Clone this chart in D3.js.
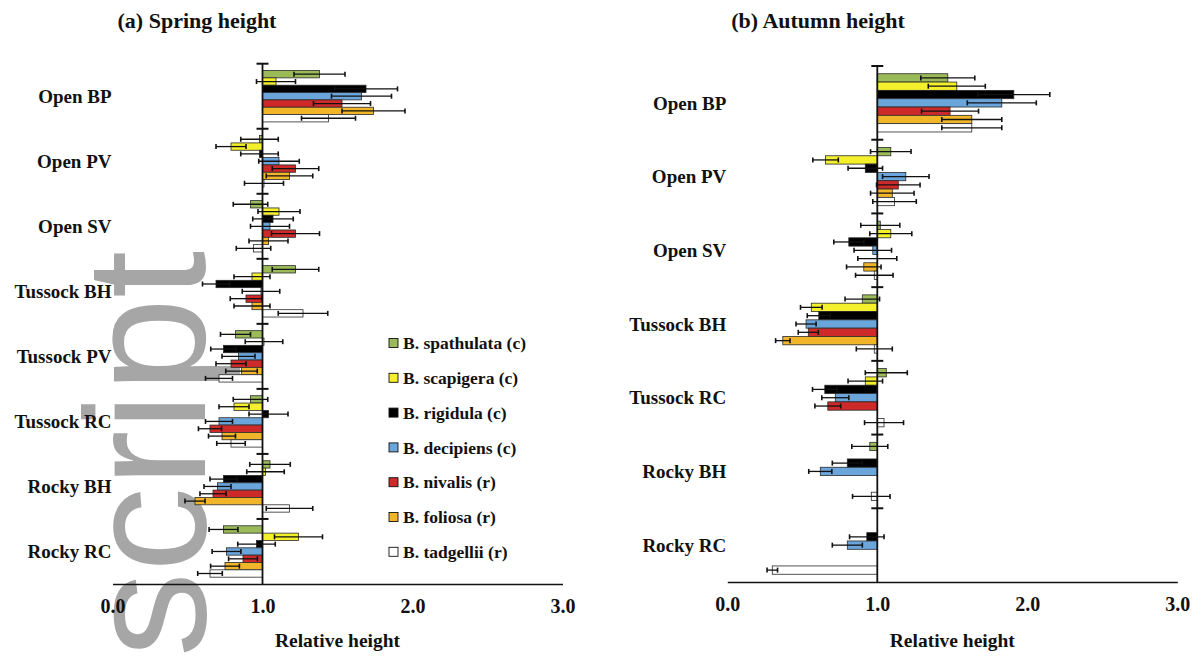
<!DOCTYPE html>
<html>
<head>
<meta charset="utf-8">
<script src="https://cdn.jsdelivr.net/npm/d3@7"></script>
<style>
  html, body { margin: 0; padding: 0; background: #fff; }
  svg { display: block; }
</style>
</head>
<body>
<svg id="chart" width="1200" height="656"></svg>
<script>
// Species (series), in drawing order within each site group
const species = ["B. spathulata (c)", "B. scapigera (c)", "B. rigidula (c)", "B. decipiens (c)",
                 "B. nivalis (r)", "B. foliosa (r)", "B. tadgellii (r)"];
const speciesColors = ["#9bbb59", "#f4f02c", "#000000", "#6aa6dc", "#cf2a2a", "#f1b52a", "#ffffff"];

// Sites (categories)
const springSites = ["Open BP", "Open PV", "Open SV", "Tussock BH", "Tussock PV", "Tussock RC", "Rocky BH", "Rocky RC"];
const autumnSites = ["Open BP", "Open PV", "Open SV", "Tussock BH", "Tussock RC", "Rocky BH", "Rocky RC"];

// Relative height, one row per site, one column per species
const springMean = [
  [1.38, 1.09, 1.69, 1.66, 1.53, 1.74, 1.44],
  [0.98, 0.79, 0.98, 1.11, 1.22, 1.18, 1.01],
  [0.92, 1.11, 1.07, 1.05, 1.22, 1.04, 0.94],
  [1.22, 0.93, 0.69, 0.99, 0.89, 0.93, 1.27],
  [0.82, 1.01, 0.74, 0.84, 0.79, 0.86, 0.71],
  [0.92, 0.81, 1.04, 0.71, 0.65, 0.73, 0.79],
  [1.05, 1.02, 0.74, 0.70, 0.67, 0.55, 1.18],
  [0.74, 1.24, 0.96, 0.76, 0.87, 0.75, 0.65]
];
const springErr = [
  [0.17, 0.13, 0.21, 0.20, 0.19, 0.21, 0.18],
  [0.125, 0.10, 0.125, 0.135, 0.155, 0.155, 0.13],
  [0.115, 0.14, 0.135, 0.13, 0.16, 0.13, 0.115],
  [0.155, 0.12, 0.09, 0.125, 0.105, 0.12, 0.165],
  [0.10, 0.125, 0.085, 0.11, 0.10, 0.105, 0.09],
  [0.115, 0.10, 0.13, 0.09, 0.077, 0.09, 0.095],
  [0.135, 0.125, 0.09, 0.09, 0.087, 0.067, 0.155],
  [0.096, 0.16, 0.125, 0.096, 0.096, 0.096, 0.082]
];
const autumnMean = [
  [1.47, 1.53, 1.91, 1.83, 1.485, 1.63, 1.63],
  [1.09, 0.655, 0.92, 1.19, 1.14, 1.10, 1.115],
  [1.02, 1.09, 0.81, 0.97, 1.00, 0.91, 0.98],
  [0.90, 0.56, 0.61, 0.525, 0.54, 0.37, 0.98],
  [1.06, 0.92, 0.65, 0.72, 0.67, null, 1.045],
  [0.95, null, 0.80, 0.62, null, null, 0.96],
  [null, null, 0.93, 0.80, null, null, 0.30]
];
const autumnErr = [
  [0.18, 0.19, 0.24, 0.23, 0.19, 0.20, 0.20],
  [0.135, 0.085, 0.115, 0.155, 0.145, 0.145, 0.145],
  [0.13, 0.14, 0.10, 0.125, 0.13, 0.115, 0.125],
  [0.115, 0.072, 0.077, 0.067, 0.067, 0.048, 0.12],
  [0.14, 0.115, 0.082, 0.09, 0.086, null, 0.13],
  [0.12, null, 0.10, 0.077, null, null, 0.125],
  [null, null, 0.115, 0.10, null, null, 0.035]
];

const xTicks = [0, 1, 2, 3];

const serif = "'Liberation Serif', 'Times New Roman', Times, serif";
const svg = d3.select("#chart");

// Large grey lettering running up the left side, under the plot
svg.append("text")
  .attr("transform", "translate(205,657) rotate(-90)")
  .attr("font-family", "'Liberation Sans', Arial, sans-serif")
  .attr("font-size", 170)
  .attr("fill", "#a6a6a6")
  .text("script");

function drawPanel(cfg) {
  const g = svg.append("g");
  const x = d3.scaleLinear().domain([0, 3]).range(cfg.xRange);
  const y = d3.scaleBand().domain(cfg.sites).range(cfg.yRange).padding(0);
  const inner = d3.scaleBand().domain(species).range([0, y.bandwidth()])
    .paddingInner(0).paddingOuter(0.93);
  const x1 = x(1);

  // Bars grow from the reference value 1.0
  const rows = [];
  cfg.sites.forEach((site, i) => {
    species.forEach((sp, j) => {
      const v = cfg.mean[i][j];
      if (v === null) return;
      rows.push({ site, sp, j, v, e: cfg.err[i][j] });
    });
  });

  g.selectAll("rect.bar").data(rows).join("rect")
    .attr("class", "bar")
    .attr("x", d => Math.min(x(d.v), x1))
    .attr("width", d => Math.abs(x(d.v) - x1))
    .attr("y", d => y(d.site) + inner(d.sp))
    .attr("height", inner.bandwidth())
    .attr("fill", d => speciesColors[d.j])
    .attr("stroke", "#2a2a2a")
    .attr("stroke-width", 0.8);

  // Error bars
  const eb = g.selectAll("g.err").data(rows).join("g").attr("class", "err")
    .attr("transform", d => `translate(0,${y(d.site) + inner(d.sp) + inner.bandwidth() / 2})`);
  eb.append("line")
    .attr("x1", d => x(d.v - d.e)).attr("x2", d => x(d.v + d.e))
    .attr("stroke", "#111").attr("stroke-width", 1.3);
  eb.append("line")
    .attr("x1", d => x(d.v - d.e)).attr("x2", d => x(d.v - d.e))
    .attr("y1", -2.5).attr("y2", 2.5)
    .attr("stroke", "#111").attr("stroke-width", 1.6);
  eb.append("line")
    .attr("x1", d => x(d.v + d.e)).attr("x2", d => x(d.v + d.e))
    .attr("y1", -2.5).attr("y2", 2.5)
    .attr("stroke", "#111").attr("stroke-width", 1.6);

  // Reference line at 1.0 with group separators
  g.append("line")
    .attr("x1", x1).attr("x2", x1)
    .attr("y1", cfg.yRange[0]).attr("y2", cfg.yRange[1])
    .attr("stroke", "#111").attr("stroke-width", 1.8);
  g.selectAll("line.sep").data(cfg.sites).join("line")
    .attr("class", "sep")
    .attr("x1", x1 - 6).attr("x2", x1 + 6)
    .attr("y1", d => y(d)).attr("y2", d => y(d))
    .attr("stroke", "#111").attr("stroke-width", 2);

  // Site labels
  g.selectAll("text.site").data(cfg.sites).join("text")
    .attr("class", "site")
    .attr("x", x(0) - 1)
    .attr("y", d => y(d) + y.bandwidth() / 2)
    .attr("dy", "0.35em")
    .attr("text-anchor", "end")
    .attr("font-family", serif)
    .attr("font-weight", "bold")
    .attr("font-size", 19)
    .attr("fill", "#111")
    .text(d => d);

  // Horizontal axis
  const axis = d3.axisBottom(x).tickValues(xTicks).tickFormat(d3.format(".1f"))
    .tickSize(0).tickSizeOuter(0).tickPadding(15);
  const ax = g.append("g")
    .attr("transform", `translate(0,${cfg.yRange[1]})`)
    .call(axis);
  ax.select(".domain").attr("stroke", "#111").attr("stroke-width", 1.6);
  ax.selectAll("text")
    .attr("font-family", serif)
    .attr("font-weight", "bold")
    .attr("font-size", 20)
    .attr("fill", "#111");

  g.append("text")
    .attr("x", (cfg.xRange[0] + cfg.xRange[1]) / 2)
    .attr("y", 647)
    .attr("text-anchor", "middle")
    .attr("font-family", serif)
    .attr("font-weight", "bold")
    .attr("font-size", 19.5)
    .attr("fill", "#111")
    .text("Relative height");

  g.append("text")
    .attr("x", cfg.titleX)
    .attr("y", 28)
    .attr("text-anchor", "middle")
    .attr("font-family", serif)
    .attr("font-weight", "bold")
    .attr("font-size", 22)
    .attr("fill", "#111")
    .text(cfg.title);
}

drawPanel({
  sites: springSites, mean: springMean, err: springErr,
  xRange: [112.5, 562.5], yRange: [63.7, 584],
  title: "(a) Spring height", titleX: 197
});

drawPanel({
  sites: autumnSites, mean: autumnMean, err: autumnErr,
  xRange: [727.3, 1177.3], yRange: [66, 582],
  title: "(b) Autumn height", titleX: 818
});

// Legend
const legend = svg.append("g").attr("transform", "translate(389,343)");
const li = legend.selectAll("g").data(species).join("g")
  .attr("transform", (d, i) => `translate(0,${i * 34.8})`);
li.append("rect")
  .attr("x", 0).attr("y", -4.5).attr("width", 9).attr("height", 9)
  .attr("fill", (d, i) => speciesColors[i])
  .attr("stroke", "#111").attr("stroke-width", 0.9);
li.append("text")
  .attr("x", 14).attr("dy", "0.35em")
  .attr("font-family", serif)
  .attr("font-weight", "bold")
  .attr("font-size", 17.5)
  .attr("fill", "#111")
  .text(d => d);
</script>
</body>
</html>
